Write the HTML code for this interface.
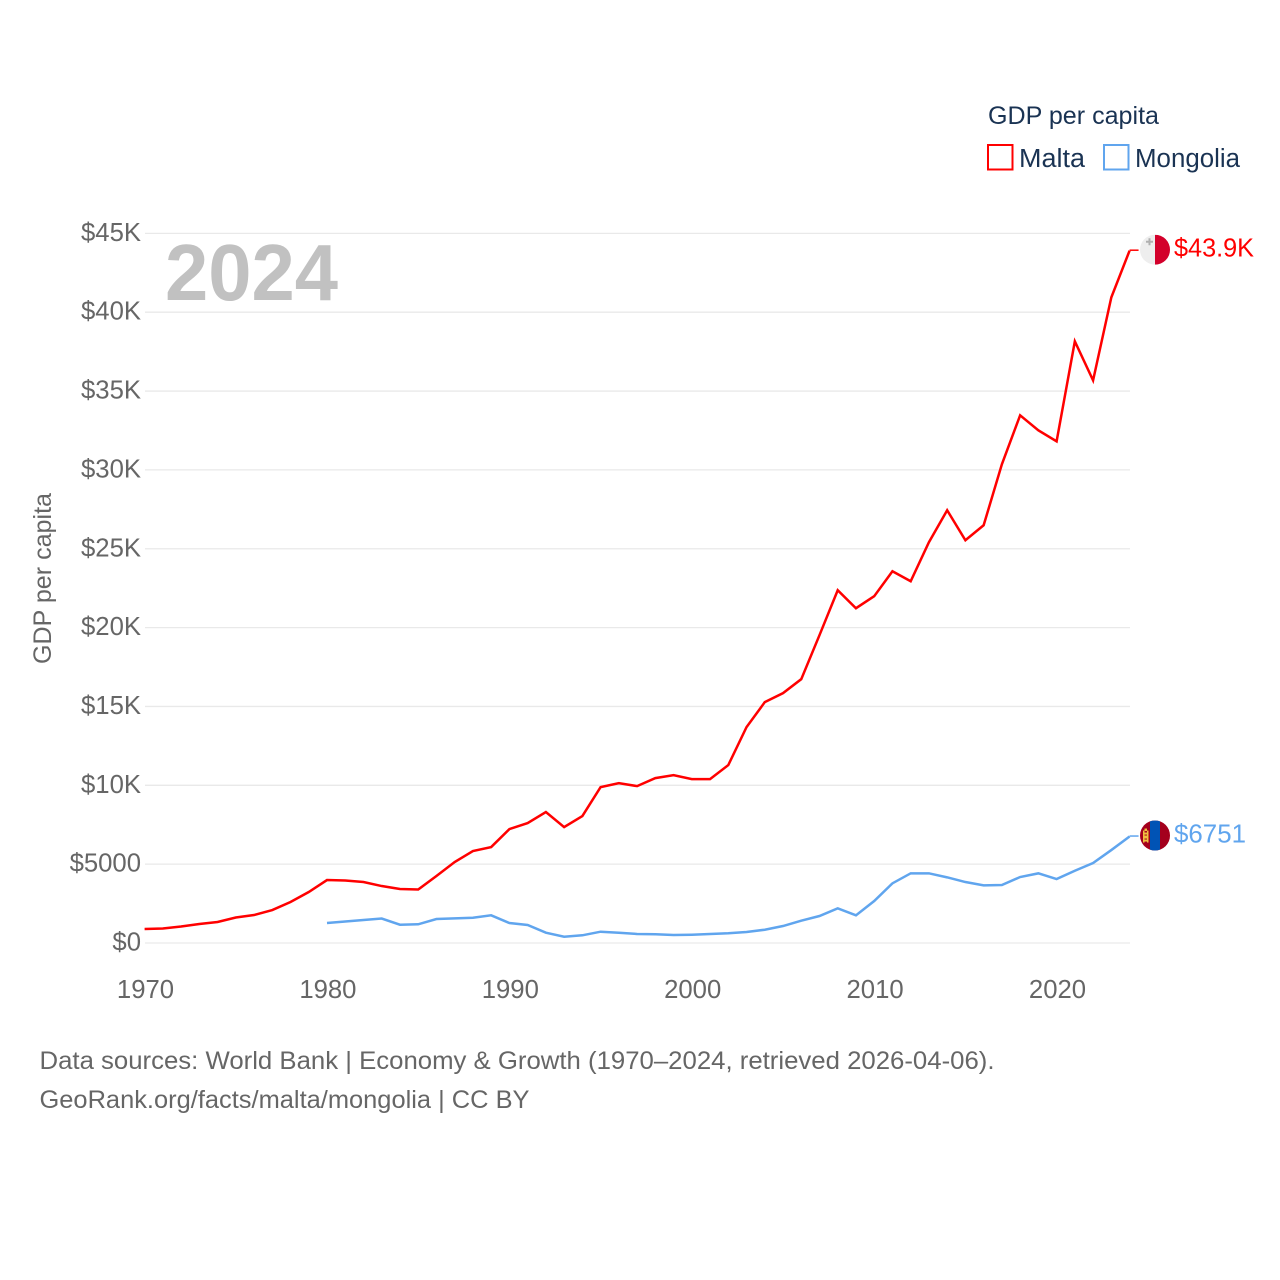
<!DOCTYPE html>
<html>
<head>
<meta charset="utf-8">
<title>GDP per capita: Malta and Mongolia</title>
<style>
html,body{margin:0;padding:0;background:#fff;width:1280px;height:1280px;overflow:hidden}
svg{display:block}
text{font-family:"Liberation Sans",sans-serif}
</style>
</head>
<body>
<svg id="chart" xmlns="http://www.w3.org/2000/svg" width="1280" height="1280" viewBox="0 0 1280 1280">
  <rect x="0" y="0" width="1280" height="1280" fill="#fff"/>
  <g id="grid"></g>
  <text x="165" y="300" font-size="80" font-weight="700" fill="#c1c1c1" textLength="173" lengthAdjust="spacingAndGlyphs">2024</text>
  <g id="y-ticks"></g>
  <g id="x-ticks"></g>
  <text transform="translate(51,664) rotate(-90)" font-size="25" fill="#666" textLength="171" lengthAdjust="spacingAndGlyphs">GDP per capita</text>
  <g id="series"></g>
  <g id="flag-malta">
    <clipPath id="clip-malta"><circle cx="0" cy="0" r="15"/></clipPath>
    <g clip-path="url(#clip-malta)">
      <rect x="-15" y="-15" width="15" height="30" fill="#eeeeee"/>
      <rect x="0" y="-15" width="15" height="30" fill="#d3002b"/>
      <path d="M-6.5 -11.5h2v2.5h2.5v2h-2.5v2.500h-2v-2.500h-2.500v-2h2.500z" fill="#b0b0b0"/>
    </g>
  </g>
  <g id="flag-mongolia">
    <clipPath id="clip-mongolia"><circle cx="0" cy="0" r="15"/></clipPath>
    <g clip-path="url(#clip-mongolia)">
      <rect x="-15" y="-15" width="30" height="30" fill="#a4001d"/>
      <rect x="-5" y="-15" width="10" height="30" fill="#0053b5"/>
      <rect x="-12" y="-5" width="1.500" height="12" fill="#f0c040"/>
      <rect x="-8" y="-5" width="1.500" height="12" fill="#f0c040"/>
      <rect x="-10.500" y="-7" width="2.500" height="2.500" fill="#f0c040"/>
      <rect x="-10.500" y="-3" width="2.500" height="2" fill="#f0c040"/>
      <rect x="-10.500" y="0" width="2.500" height="3" fill="#f0c040"/>
      <rect x="-10.500" y="4" width="2.500" height="2" fill="#f0c040"/>
    </g>
  </g>
  <text id="label-malta" x="1174" font-size="25.500" fill="#ff0000" textLength="80" lengthAdjust="spacingAndGlyphs"></text>
  <text id="label-mongolia" x="1174" font-size="25.500" fill="#60a5ee" textLength="72" lengthAdjust="spacingAndGlyphs"></text>

  <g>
    <text x="988" y="124" font-size="25" fill="#1a3353" textLength="171" lengthAdjust="spacingAndGlyphs">GDP per capita</text>
    <g>
      <rect x="988" y="145" width="24.500" height="24.500" fill="#fff" stroke="#ff0000" stroke-width="2"/>
      <text x="1019" y="167" font-size="25.500" fill="#1a3353" textLength="66" lengthAdjust="spacingAndGlyphs">Malta</text>
    </g>
    <g>
      <rect x="1104" y="145" width="24.500" height="24.500" fill="#fff" stroke="#60a5ee" stroke-width="2"/>
      <text x="1135" y="167" font-size="25.500" fill="#1a3353" textLength="105" lengthAdjust="spacingAndGlyphs">Mongolia</text>
    </g>
  </g>

  <text x="39.500" y="1069" font-size="25" fill="#666" textLength="955" lengthAdjust="spacingAndGlyphs">Data sources: World Bank | Economy &amp; Growth (1970–2024, retrieved 2026-04-06).</text>
  <text x="39.500" y="1108" font-size="25" fill="#666" textLength="490" lengthAdjust="spacingAndGlyphs">GeoRank.org/facts/malta/mongolia | CC BY</text>
</svg>
<script>
const years = [1970,1971,1972,1973,1974,1975,1976,1977,1978,1979,1980,1981,1982,1983,1984,1985,1986,1987,1988,1989,1990,1991,1992,1993,1994,1995,1996,1997,1998,1999,2000,2001,2002,2003,2004,2005,2006,2007,2008,2009,2010,2011,2012,2013,2014,2015,2016,2017,2018,2019,2020,2021,2022,2023,2024];
const maltaValues = [887,919,1046,1204,1331,1616,1774,2091,2598,3232,3992,3961,3866,3612,3422,3390,4246,5133,5830,6084,7224,7605,8302,7351,8048,9886,10139,9949,10456,10646,10393,10393,11280,13688,15272,15843,16730,19518,22370,21229,21990,23574,22940,25412,27440,25539,26489,30355,33460,32510,31812,38150,35678,40938,43900];
const mongoliaValues = [null,null,null,null,null,null,null,null,null,null,1267,1362,1458,1553,1160,1185,1521,1565,1603,1755,1267,1141,653,399,488,716,653,570,551,507,526,570,615,697,843,1077,1413,1711,2199,1755,2662,3783,4417,4417,4163,3866,3657,3676,4183,4417,4056,4582,5070,5894,6751];
const yTickValues = [0,5000,10000,15000,20000,25000,30000,35000,40000,45000];
const yTickLabels = ['$0','$5000','$10K','$15K','$20K','$25K','$30K','$35K','$40K','$45K'];
const xTickValues = [1970,1980,1990,2000,2010,2020];

const NS = 'http://www.w3.org/2000/svg';
function xScale(year) { return 144.6 + (year - 1970) * 18.24; }
function yScale(value) { return 943 - value * 0.01577; }
function formatValue(v) { return v >= 10000 ? '$' + (v / 1000).toFixed(1) + 'K' : '$' + Math.round(v); }
function make(tag, parent, attrs, content) {
  const el = document.createElementNS(NS, tag);
  for (const k in attrs) el.setAttribute(k, attrs[k]);
  if (content !== undefined) el.textContent = content;
  parent.appendChild(el);
  return el;
}

const gridGroup = document.getElementById('grid');
const yTickGroup = document.getElementById('y-ticks');
yTickValues.forEach(function (v, i) {
  const line = make('line', gridGroup, {x1: 145, x2: 1130, y1: yScale(v), y2: yScale(v), stroke: '#e9e9e9', 'stroke-width': 1.300});
  
  
  const label = make('text', yTickGroup, {x: 141, y: yScale(v) + 7.500, 'text-anchor': 'end', 'font-size': 25.700, fill: '#666'}, yTickLabels[i]);
  
  
});

const xTickGroup = document.getElementById('x-ticks');
xTickValues.forEach(function (year) {
  const label = make('text', xTickGroup, {x: xScale(year) + 0.900, y: 998, 'text-anchor': 'middle', 'font-size': 25.700, fill: '#666'}, String(year));
  
  
});

function drawSeries(values, color, name, flagId, labelId) {
  const group = document.getElementById('series');
  let pts = [];
  values.forEach(function (v, i) {
    if (v !== null) pts.push(xScale(years[i]).toFixed(2) + ',' + yScale(v).toFixed(2));
  });
  const lastValue = values[values.length - 1];
  const lastX = xScale(years[years.length - 1]);
  const lastY = yScale(lastValue);
  const line = make('polyline', group, {points: pts.join(' '), fill: 'none', stroke: color, 'stroke-width': 2.500, 'stroke-linejoin': 'miter'});
  
  
  const connector = make('line', group, {x1: lastX, x2: lastX + 9, y1: lastY - 0.5, y2: lastY - 0.5, stroke: color, 'stroke-width': 1.500});
  
  
  document.getElementById(flagId).setAttribute('transform', 'translate(1155,' + (lastY - 1).toFixed(2) + ')');
  const label = document.getElementById(labelId);
  label.setAttribute('y', (lastY + 6).toFixed(2));
  label.textContent = formatValue(lastValue);
}
drawSeries(maltaValues, '#ff0000', 'malta', 'flag-malta', 'label-malta');
drawSeries(mongoliaValues, '#60a5ee', 'mongolia', 'flag-mongolia', 'label-mongolia');
</script>
</body>
</html>
